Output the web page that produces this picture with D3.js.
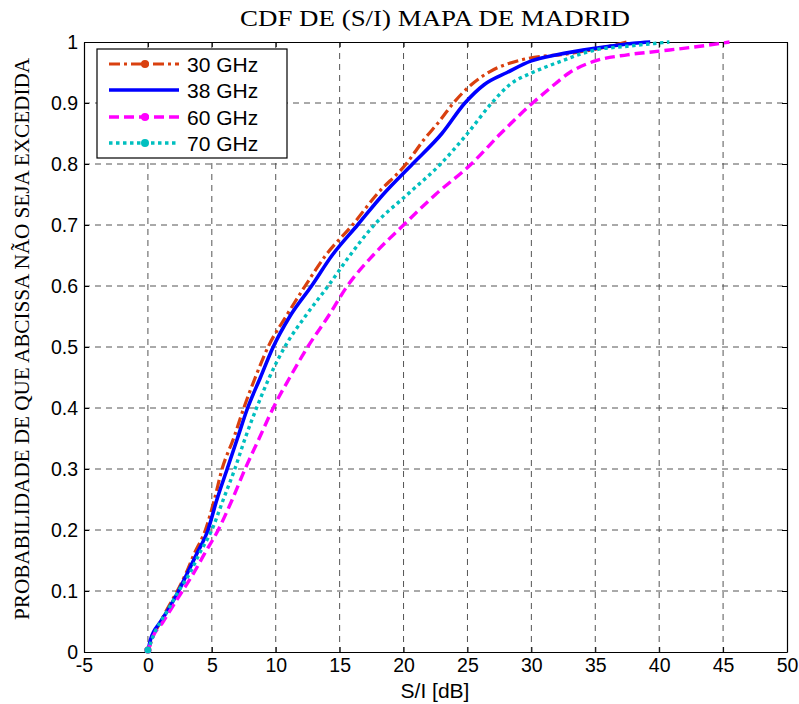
<!DOCTYPE html>
<html>
<head>
<meta charset="utf-8">
<script src="https://cdn.jsdelivr.net/npm/d3@7/dist/d3.min.js"></script>
<style>
  html, body { margin: 0; padding: 0; background: #fff; }
  svg { display: block; }
</style>
</head>
<body>
<svg id="chart" width="799" height="704"></svg>
<script>
// Empirical CDF of S/I (dB) for each frequency: [S/I, probability] pairs
const cdf30 = [[0,0],[0.3,0.02],[1.0,0.05],[1.5,0.07],[2.3,0.1],[3.0,0.13],[3.6,0.16],[4.5,0.2],[5.2,0.25],[5.8,0.3],[6.7,0.35],[7.5,0.4],[8.4,0.45],[9.4,0.5],[10.8,0.55],[12.3,0.6],[13.9,0.65],[16.0,0.7],[17.9,0.75],[20.2,0.8],[21.6,0.84],[22.8,0.87],[23.9,0.9],[25.3,0.93],[26.8,0.952],[29.1,0.97],[33.3,0.982],[35.4,0.99],[37.5,1.0]];
const cdf38 = [[0,0],[0.2,0.02],[1.0,0.05],[1.6,0.07],[2.4,0.1],[3.1,0.13],[3.8,0.16],[4.7,0.2],[5.4,0.25],[6.2,0.3],[7.0,0.35],[7.8,0.4],[8.8,0.45],[9.8,0.5],[11.1,0.55],[12.8,0.6],[14.4,0.65],[16.4,0.7],[18.4,0.75],[20.7,0.8],[23.0,0.85],[24.8,0.9],[26.3,0.93],[28.1,0.95],[30.0,0.969],[32.0,0.979],[35.1,0.99],[38.0,0.998],[39.3,1.0]];
const cdf60 = [[0,0],[0.3,0.02],[1.2,0.05],[1.8,0.07],[2.7,0.1],[3.6,0.13],[4.4,0.16],[5.5,0.2],[6.6,0.25],[7.6,0.3],[8.7,0.35],[9.8,0.4],[11.1,0.45],[12.5,0.5],[14.1,0.55],[15.6,0.6],[17.6,0.65],[20.0,0.7],[22.5,0.75],[25.3,0.8],[27.6,0.85],[30.1,0.9],[31.5,0.925],[33.0,0.95],[35.0,0.969],[37.5,0.979],[40.0,0.985],[43.2,0.993],[45.5,1.0]];
const cdf70 = [[0,0],[0.3,0.02],[1.0,0.05],[1.6,0.07],[2.4,0.1],[3.3,0.13],[4.0,0.16],[5.0,0.2],[5.9,0.25],[6.8,0.3],[7.6,0.35],[8.5,0.4],[9.5,0.45],[10.7,0.5],[12.3,0.55],[14.1,0.6],[15.8,0.65],[17.7,0.7],[20.3,0.75],[22.9,0.8],[25.0,0.85],[26.9,0.9],[28.3,0.93],[30.1,0.95],[32.0,0.966],[35.0,0.987],[37.5,0.993],[40.8,1.0]];

const seriesNames = ["30 GHz", "38 GHz", "60 GHz", "70 GHz"];
const xTicks = [-5, 0, 5, 10, 15, 20, 25, 30, 35, 40, 45, 50];
const yTicks = [0, 0.1, 0.2, 0.3, 0.4, 0.5, 0.6, 0.7, 0.8, 0.9, 1];

const series = [
  { name: seriesNames[0], data: cdf30, color: "#d9400f", dash: "11,4,3,4", width: 3.2, marker: true },
  { name: seriesNames[1], data: cdf38, color: "#0000ff", dash: null, width: 3.6, marker: false },
  { name: seriesNames[2], data: cdf60, color: "#ff00ff", dash: "10,5", width: 3.4, marker: true },
  { name: seriesNames[3], data: cdf70, color: "#00bfbf", dash: "3.5,3.5", width: 3.4, marker: true }
];

const svg = d3.select("#chart");
const plot = { left: 84, right: 787, top: 42, bottom: 652 };

const x = d3.scaleLinear().domain([-5, 50]).range([plot.left, plot.right]);
const y = d3.scaleLinear().domain([0, 1]).range([plot.bottom, plot.top]);

const sansFont = "'Liberation Sans', Arial, Helvetica, sans-serif";
const serifFont = "'Liberation Serif', 'Times New Roman', serif";

// dashed grid
const grid = svg.append("g").attr("stroke", "#555").attr("stroke-width", 1).attr("stroke-dasharray", "6,5");
grid.selectAll("line.gx").data(xTicks.slice(1, -1)).join("line")
  .attr("x1", d => x(d)).attr("x2", d => x(d))
  .attr("y1", plot.top).attr("y2", plot.bottom);
grid.selectAll("line.gy").data(yTicks.slice(1, -1)).join("line")
  .attr("x1", plot.left).attr("x2", plot.right)
  .attr("y1", d => y(d)).attr("y2", d => y(d));

// axes with inward ticks on all four sides
const fmtY = d => d3.format("~g")(d);
const fmtX = d => String(d);
const axBottom = svg.append("g").attr("transform", `translate(0,${plot.bottom})`)
  .call(d3.axisBottom(x).tickValues(xTicks).tickSizeInner(-5).tickSizeOuter(0).tickPadding(6).tickFormat(fmtX));
const axTop = svg.append("g").attr("transform", `translate(0,${plot.top})`)
  .call(d3.axisTop(x).tickValues(xTicks).tickSizeInner(-5).tickSizeOuter(0).tickFormat(""));
const axLeft = svg.append("g").attr("transform", `translate(${plot.left},0)`)
  .call(d3.axisLeft(y).tickValues(yTicks).tickSizeInner(-5).tickSizeOuter(0).tickPadding(6).tickFormat(fmtY));
const axRight = svg.append("g").attr("transform", `translate(${plot.right},0)`)
  .call(d3.axisRight(y).tickValues(yTicks).tickSizeInner(-5).tickSizeOuter(0).tickFormat(""));

[axBottom, axTop, axLeft, axRight].forEach(a => {
  a.select(".domain").attr("stroke", "#000").attr("stroke-width", 1.2);
  a.selectAll(".tick line").attr("stroke", "#000");
  a.selectAll("text").attr("font-family", sansFont).attr("font-size", 19.5).attr("fill", "#000");
});

// CDF curves
const line = d3.line().curve(d3.curveMonotoneX).x(d => x(d[0])).y(d => y(d[1]));
const curves = svg.append("g").attr("fill", "none").attr("stroke-linejoin", "round");
series.forEach(s => {
  curves.append("path")
    .attr("d", line(s.data))
    .attr("stroke", s.color)
    .attr("stroke-width", s.width)
    .attr("stroke-dasharray", s.dash);
});
// start markers at the origin of the dotted/dashed series
series.filter(s => s.marker).forEach(s => {
  svg.append("circle").attr("cx", x(s.data[0][0])).attr("cy", y(s.data[0][1]) - 2)
    .attr("r", 3.5).attr("fill", s.color);
});

// legend
const legend = svg.append("g");
legend.append("rect").attr("x", 97).attr("y", 49).attr("width", 190).attr("height", 109)
  .attr("fill", "#fff").attr("stroke", "#000").attr("stroke-width", 1.2);
const rowY = [64, 90, 117, 143];
series.forEach((s, i) => {
  const g = legend.append("g").attr("transform", `translate(0,${rowY[i]})`);
  g.append("line").attr("x1", 109).attr("x2", 179).attr("y1", 0).attr("y2", 0)
    .attr("stroke", s.color).attr("stroke-width", s.width).attr("stroke-dasharray", s.dash);
  if (s.marker) g.append("circle").attr("cx", 145).attr("cy", 0).attr("r", 4).attr("fill", s.color);
  g.append("text").attr("x", 187).attr("y", 0).attr("dy", "0.36em")
    .attr("font-family", sansFont).attr("font-size", 21).attr("fill", "#000").text(s.name);
});

// titles
svg.append("text").attr("x", 435).attr("y", 26).attr("text-anchor", "middle")
  .attr("font-family", serifFont).attr("font-size", 23).attr("fill", "#000")
  .attr("textLength", 390).attr("lengthAdjust", "spacingAndGlyphs")
  .text("CDF DE (S/I) MAPA DE MADRID");
svg.append("text").attr("x", 435).attr("y", 698).attr("text-anchor", "middle")
  .attr("font-family", sansFont).attr("font-size", 21).attr("fill", "#000")
  .text("S/I [dB]");
svg.append("text").attr("transform", "translate(29,339) rotate(-90)").attr("text-anchor", "middle")
  .attr("font-family", serifFont).attr("font-size", 20.5).attr("fill", "#000")
  .attr("textLength", 562).attr("lengthAdjust", "spacingAndGlyphs")
  .text("PROBABILIDADE DE QUE ABCISSA NÃO SEJA EXCEDIDA");
</script>
</body>
</html>
